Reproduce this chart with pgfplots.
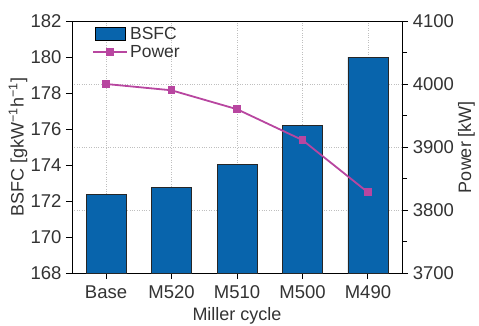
\documentclass[border=0pt]{standalone}
\usepackage{fontspec}
\setmainfont{Liberation Sans}
\usepackage{pgfplots}
\pgfplotsset{compat=1.18}
\definecolor{bsfcblue}{RGB}{8,100,172}
\definecolor{powmag}{RGB}{184,70,160}
\begin{document}
\begin{tikzpicture}
\pgfplotsset{
  every axis/.append style={
    scale only axis, width=330pt, height=252pt,
    xmin=-0.52, xmax=4.52,
    line width=1pt,
    tick style={line width=1pt, black},
    /pgf/number format/assume math mode=true,
    tick label style={font=\fontsize{18.5}{20}\selectfont, text=black!80},
    label style={font=\fontsize{18}{20}\selectfont, text=black!80},
  }
}
\begin{axis}[
  set layers,
  ymin=168, ymax=182, ytick={168,170,...,182},
  axis y line*=left, axis x line*=bottom,
  xtick={0,1,2,3,4},
  xticklabels={Base,M520,M510,M500,M490},
  x tick label style={yshift=-3pt},
  y tick label style={xshift=-1pt},
  tick align=outside, major tick length=6pt,
  xmajorgrids,
  grid style={dotted, line width=0.9pt, black!25},
  extra y ticks={171.5,175,178.5},
  extra y tick labels={},
  extra y tick style={grid=major, major tick length=0pt},
  ylabel={BSFC [gkW\textsuperscript{−1}h\textsuperscript{−1}]},
  xlabel={Miller cycle},
  xlabel style={yshift=-2pt},
  ylabel style={yshift=-10pt},
  /pgf/number format/fixed,
]
\addplot[ybar, bar width=40pt, bar shift=0pt, fill=bsfcblue, draw=black!85, line width=0.8pt]
  coordinates {(0,172.35) (1,172.75) (2,174.05) (3,176.2) (4,180.0)};
\end{axis}
\begin{axis}[
  ymin=3700, ymax=4100, ytick={3700,3800,...,4100},
  minor ytick={3750,3850,3950,4050},
  axis y line*=right, axis x line=none,
  hide x axis,
  y tick label style={xshift=1pt},
  tick align=outside, major tick length=6pt, minor tick length=5pt,
  ylabel={Power [kW]},
  ylabel style={yshift=3pt},
  /pgf/number format/1000 sep={},
  legend style={draw=none, fill=none, at={(0.06,0.985)}, anchor=north west,
    font=\fontsize{17.5}{18}\selectfont, text=black!80, row sep=0pt,
    legend cell align=left, inner sep=0pt,
    /tikz/every even column/.append style={column sep=8pt}},
]
\draw[line width=1pt] (rel axis cs:0,1) -- (rel axis cs:1,1);
\addlegendimage{legend image code/.code={
  \draw[fill=bsfcblue, draw=black, line width=0.8pt] (0pt,-6pt) rectangle (30pt,7pt);}}
\addlegendentry{BSFC}
\addplot[color=powmag, line width=1.8pt, mark=square*, mark size=3pt, mark options={fill=powmag},
  legend image code/.code={
  \draw[color=powmag, line width=1.8pt] (-2pt,0pt) -- (32pt,0pt);
  \fill[powmag] (12pt,-3pt) rectangle (18pt,3pt);}]
  coordinates {(0,4000) (1,3990) (2,3960) (3,3911) (4,3828)};
\addlegendentry{Power}
\end{axis}
\pgfresetboundingbox
\useasboundingbox (-72pt,-52pt) rectangle (407pt,273pt);
\end{tikzpicture}
\end{document}
